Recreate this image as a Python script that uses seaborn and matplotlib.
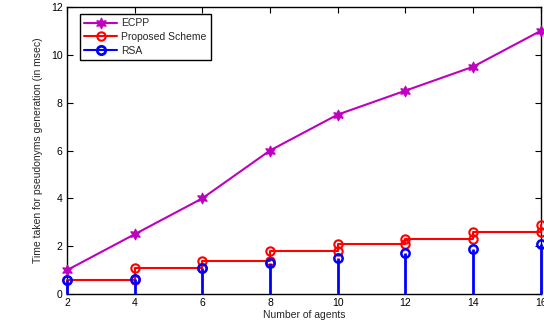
import numpy as np
import pandas as pd
import matplotlib
matplotlib.use("Agg")
import matplotlib.pyplot as plt
import seaborn as sns

agents = [2, 4, 6, 8, 10, 12, 14, 16]
ecpp = [1.0, 2.5, 4.0, 6.0, 7.5, 8.5, 9.5, 11.0]
proposed = [0.6, 1.1, 1.4, 1.8, 2.1, 2.3, 2.6, 2.9]
rsa = [0.6, 0.65, 1.1, 1.3, 1.5, 1.7, 1.9, 2.1]
x_ticks = [2, 4, 6, 8, 10, 12, 14, 16]
y_ticks = [0, 2, 4, 6, 8, 10, 12]

sns.set_theme(style="white")
plt.rcParams['font.family'] = ['Liberation Sans', 'DejaVu Sans']

fig = plt.figure(figsize=(5.44, 3.29), dpi=100)
ax = fig.add_axes([0.123, 0.106, 0.871, 0.873])

magenta = '#BF00BF'
red = '#FF0000'
blue = '#0000FF'

# ECPP
df_e = pd.DataFrame({'x': agents, 'y': ecpp})
sns.lineplot(data=df_e, x='x', y='y', ax=ax, color=magenta, lw=1.5,
             marker=(6, 1, 0), markersize=8, markeredgecolor=magenta,
             markerfacecolor=magenta, label='ECPP', zorder=3, clip_on=False)

# Proposed scheme: stairs with markers at each vertex
sx = np.repeat(agents, 2)[1:]
sy = np.repeat(proposed, 2)[:-1]
df_p = pd.DataFrame({'x': sx, 'y': sy})
sns.lineplot(data=df_p, x='x', y='y', ax=ax, color=red, lw=1.5, sort=False,
             estimator=None, marker='o', markersize=6, markerfacecolor='none',
             markeredgecolor=red, markeredgewidth=1.5, label='Proposed Scheme',
             zorder=3, clip_on=False)

# RSA: stem
ax.vlines(agents, 0, rsa, colors=blue, lw=2, zorder=4, clip_on=False)
ax.plot(agents, rsa, ls='none', marker='o', markersize=6, markerfacecolor='none',
        markeredgecolor=blue, markeredgewidth=1.8, zorder=5, clip_on=False)
ax.plot([], [], color=blue, lw=1.5, marker='o', markersize=6, markerfacecolor='none',
        markeredgecolor=blue, markeredgewidth=2, label='RSA')

ax.set_xlim(2, 16)
ax.set_ylim(0, 12)
ax.set_xticks(x_ticks)
ax.set_yticks(y_ticks)
ax.set_xlabel('Number of agents', fontsize=7.5, labelpad=1)
ax.set_ylabel('Time taken for pseudonyms generation (in msec)', fontsize=7.5, labelpad=6)
ax.tick_params(direction='in', length=4, width=0.8, labelsize=7.5, top=True, right=True,
               bottom=True, left=True, colors='black', pad=3)
for s in ax.spines.values():
    s.set_color('black')
    s.set_linewidth(1.0)

handles, labels = ax.get_legend_handles_labels()
leg = ax.legend(handles[:3], labels[:3], loc='upper left', bbox_to_anchor=(0.027, 0.975),
                fontsize=7.5, frameon=True, fancybox=False, edgecolor='black',
                framealpha=1, handlelength=3.2, borderpad=0.4, labelspacing=0.35,
                handletextpad=0.4, borderaxespad=0)
leg.get_frame().set_linewidth(1.0)

fig.savefig('out.png', dpi=100)
